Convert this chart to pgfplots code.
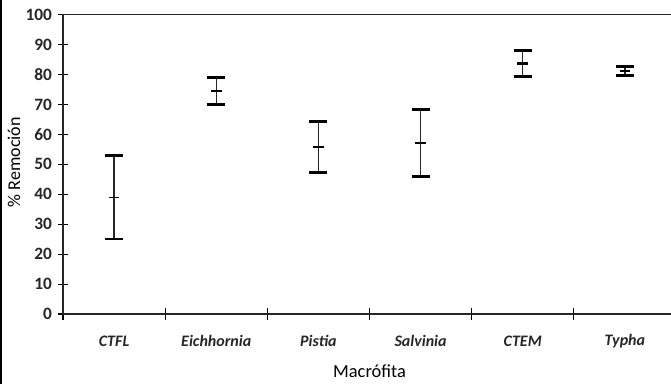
\documentclass[border=0pt]{standalone}
\usepackage{fontspec}
\setmainfont{Carlito}
\usepackage{pgfplots}
\pgfplotsset{compat=1.18}
\begin{document}
\begin{tikzpicture}
\useasboundingbox (0,0) rectangle (503.25pt,288pt);
\clip (0,0) rectangle (503.25pt,288pt);
\draw[line width=1.6pt, black] (0.8pt,0) -- (0.8pt,288pt);
\begin{axis}[
  at={(47.25pt,52.5pt)}, anchor=south west,
  width=459.75pt, height=224.5pt, scale only axis,
  xmin=0, xmax=6, ymin=0, ymax=100,
  axis line style={line width=1.1pt, black!85},
  ytick={0,10,...,100},
  xtick={0.5,1.5,2.5,3.5,4.5,5.5},
  xticklabels={CTFL,Eichhornia,Pistia,Salvinia,CTEM,Typha},
  minor xtick={0,1,2,3,4,5,6},
  tick pos=left,
  tick align=center,
  major tick length=7.5pt,
  minor tick length=9pt,
  major x tick style={draw=none},
  tick style={line width=0.8pt, black},
  /pgf/number format/assume math mode=true,
  yticklabel style={font=\fontsize{13}{15}\selectfont\bfseries, text=black!85, xshift=-1pt},
  xticklabel style={font=\fontsize{12}{14}\selectfont\bfseries\itshape, text=black!85, anchor=center, yshift=-16.5pt},
  xlabel={Macrófita},
  ylabel={\% Remoción},
  xlabel style={font=\fontsize{13.8}{15}\selectfont, at={(axis description cs:0.5,0)}, anchor=center, yshift=-43pt},
  ylabel style={font=\fontsize{13.5}{15}\selectfont, at={(axis description cs:-0.08,0.507)}, anchor=center},
]
% error bars (no central marks)
\addplot[draw=none, mark=none, forget plot,
  error bars/.cd, y dir=both, y explicit,
  error mark options={rotate=90, line width=2pt, mark size=6.75pt, black},
  error bar style={line width=1pt, black!85}]
  coordinates {
  (0.5,38.95) +- (0,13.95)
  (1.5,74.5) +- (0,4.5)
  (2.5,55.7) +- (0,8.5)
  (3.5,57.15) +- (0,11.2)
  (4.5,83.7) +- (0,4.4)
  (5.5,81.1) +- (0,1.5)
  };
% means, drawn as short horizontal strokes
\addplot[draw=none, mark=none, forget plot,
  error bars/.cd, x dir=both, x explicit, error mark=none,
  error bar style={line width=1.8pt, black}]
  coordinates {(1.5,74.5) +- (0.052,0) (2.5,55.7) +- (0.052,0) (3.5,57.15) +- (0.052,0) (4.5,83.7) +- (0.052,0) (5.5,81.1) +- (0.052,0)};
\addplot[draw=none, mark=none, forget plot,
  error bars/.cd, x dir=both, x explicit, error mark=none,
  error bar style={line width=1pt, black}]
  coordinates {(0.5,38.95) +- (0.052,0)};
\end{axis}
\end{tikzpicture}
\end{document}
